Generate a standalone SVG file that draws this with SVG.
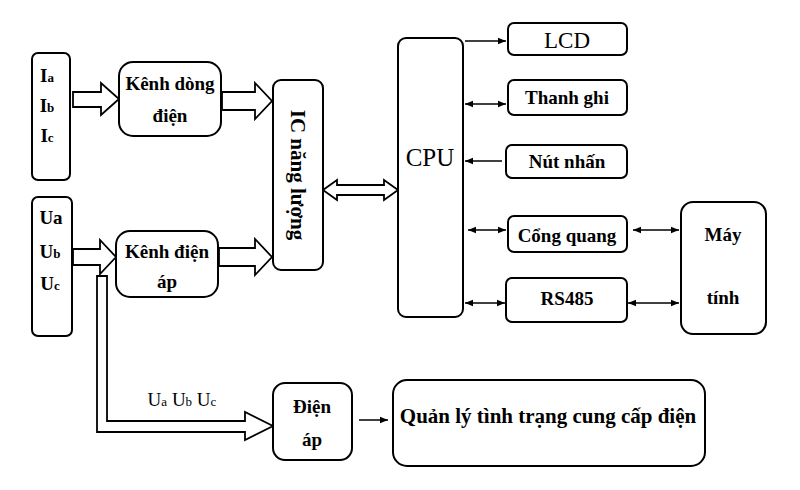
<svg xmlns="http://www.w3.org/2000/svg" width="800" height="490" viewBox="0 0 800 490">
<defs>
<marker id="ah" viewBox="0 0 10 10" refX="10" refY="5" markerWidth="8" markerHeight="8" markerUnits="userSpaceOnUse" orient="auto-start-reverse"><path d="M0,1 L10,5 L0,9 Z" fill="#000"/></marker>
<style>
.b{fill:#fff;stroke:#000;stroke-width:2}
.t{font-family:"Liberation Serif",serif;font-size:19px;fill:#000;text-anchor:middle;font-weight:bold}
.s{font-size:13px}
.l{stroke:#000;stroke-width:1.5;fill:none}
.fa{fill:#fff;stroke:#000;stroke-width:1.8}
</style>
</defs>
<rect width="800" height="490" fill="#fff"/>
<g id="connectors">
<path class="fa" d="M73,92 H101 V83 L119,99 L101,115 V107 H73 Z"/>
<path class="fa" d="M222,92 H255 V83 L272,101 L255,119 V110 H222 Z"/>
<path class="fa" d="M73,249 H100 V240 L116,257 L100,274 V265 H73 Z"/>
<path class="fa" d="M219,248 H255 V239 L272,257 L255,275 V266 H219 Z"/>
<path class="fa" d="M323,190 L337,180 V185 H384 V180 L398,190 L384,200 V195 H337 V200 Z"/>
<path class="fa" d="M97,276 H107 V421 H245 V412 L273,426 L245,440 V432 H97 Z"/>
<line class="l" x1="465" y1="41" x2="506" y2="41" marker-end="url(#ah)"/>
<line class="l" x1="465" y1="104" x2="506" y2="104" marker-start="url(#ah)" marker-end="url(#ah)"/>
<line class="l" x1="502" y1="161" x2="465" y2="161" marker-end="url(#ah)"/>
<line class="l" x1="468" y1="230" x2="506" y2="230" marker-start="url(#ah)" marker-end="url(#ah)"/>
<line class="l" x1="633" y1="230" x2="679" y2="230" marker-start="url(#ah)" marker-end="url(#ah)"/>
<line class="l" x1="465" y1="303" x2="505" y2="303" marker-start="url(#ah)" marker-end="url(#ah)"/>
<line class="l" x1="628" y1="303" x2="679" y2="303" marker-start="url(#ah)" marker-end="url(#ah)"/>
<line class="l" x1="359" y1="420" x2="388" y2="420" marker-end="url(#ah)"/>
<text class="t" x="182" y="406" style="font-weight:normal">U<tspan class="s">a</tspan> U<tspan class="s">b</tspan> U<tspan class="s">c</tspan></text>
</g>
<g id="iabc"><rect class="b" x="32" y="53" width="38" height="127" rx="6"/>
<text class="t" x="47" y="82">I<tspan class="s">a</tspan></text>
<text class="t" x="47" y="112">I<tspan class="s">b</tspan></text>
<text class="t" x="47" y="142">I<tspan class="s">c</tspan></text></g>
<g id="uabc"><rect class="b" x="32" y="197" width="40" height="139" rx="6"/>
<text class="t" x="51" y="224">Ua</text>
<text class="t" x="50" y="258">U<tspan class="s">b</tspan></text>
<text class="t" x="50" y="290">U<tspan class="s">c</tspan></text></g>
<g id="kenhdong"><rect class="b" x="119" y="62" width="102" height="74" rx="14"/>
<text class="t" x="170" y="90">Kênh dòng</text><text class="t" x="170" y="122">điện</text></g>
<g id="kenhdienap"><rect class="b" x="116" y="231" width="102" height="66" rx="14"/>
<text class="t" x="167" y="258">Kênh điện</text><text class="t" x="167" y="288">áp</text></g>
<g id="ic"><rect class="b" x="273" y="80" width="50" height="190" rx="8"/>
<text class="t" transform="translate(291,175) rotate(90)" style="font-size:21px">IC năng lượng</text></g>
<g id="cpu"><rect class="b" x="398" y="38" width="65" height="279" rx="8"/>
<text class="t" x="430" y="166" style="font-size:25px;font-weight:normal">CPU</text></g>
<g id="lcd"><rect class="b" x="508" y="23" width="119" height="32" rx="6"/><text class="t" x="567" y="48" style="font-size:23px;font-weight:normal">LCD</text></g>
<g id="thanhghi"><rect class="b" x="508" y="80" width="119" height="35" rx="6"/><text class="t" x="567" y="104">Thanh ghi</text></g>
<g id="nutnhan"><rect class="b" x="506" y="145" width="121" height="33" rx="6"/><text class="t" x="567" y="168">Nút nhấn</text></g>
<g id="congquang"><rect class="b" x="508" y="216" width="119" height="36" rx="6"/><text class="t" x="567" y="242">Cổng quang</text></g>
<g id="rs485"><rect class="b" x="506" y="278" width="121" height="44" rx="6"/><text class="t" x="567" y="305">RS485</text></g>
<g id="maytinh"><rect class="b" x="681" y="202" width="85" height="132" rx="12"/>
<text class="t" x="723" y="241">Máy</text><text class="t" x="723" y="304">tính</text></g>
<g id="dienap"><rect class="b" x="273" y="383" width="79" height="77" rx="12"/>
<text class="t" x="312" y="413">Điện</text><text class="t" x="312" y="446">áp</text></g>
<g id="quanly"><rect class="b" x="393" y="380" width="312" height="86" rx="14"/>
<text class="t" x="548" y="423" style="font-size:21px">Quản lý tình trạng cung cấp điện</text></g>
</svg>
